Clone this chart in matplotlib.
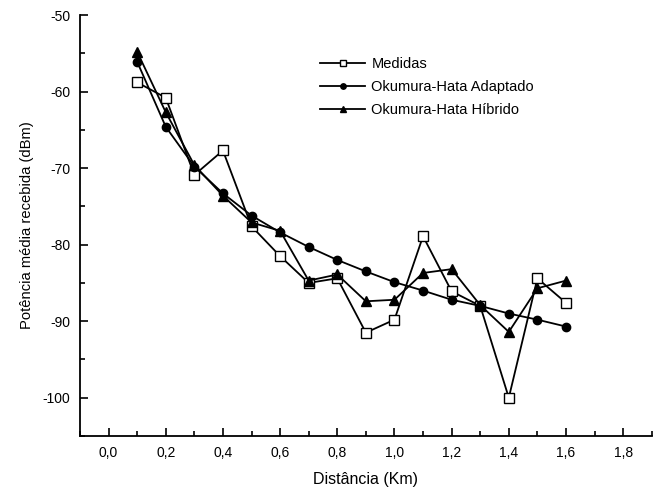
import numpy as np
import matplotlib
matplotlib.use('Agg')
import matplotlib.pyplot as plt
from matplotlib.ticker import MultipleLocator, FuncFormatter

plt.rcParams['font.family'] = ['Liberation Sans', 'DejaVu Sans']
plt.rcParams['font.size'] = 10
plt.rcParams['axes.unicode_minus'] = False

distancia = [0.1, 0.2, 0.3, 0.4, 0.5, 0.6, 0.7, 0.8, 0.9, 1.0, 1.1, 1.2, 1.3, 1.4, 1.5, 1.6]
medidas = [-58.8, -60.8, -70.9, -67.7, -77.6, -81.5, -85.0, -84.4, -91.5, -89.8,
           -78.9, -86.1, -88.0, -100.0, -84.4, -87.6]
oh_adaptado = [-56.1, -64.6, -69.8, -73.3, -76.2, -78.4, -80.3, -82.0, -83.5, -84.9,
               -86.0, -87.2, -88.0, -89.0, -89.8, -90.7]
oh_hibrido = [-54.8, -62.7, -69.6, -73.6, -77.1, -78.2, -84.7, -83.9, -87.4, -87.2,
              -83.7, -83.2, -87.9, -91.4, -85.7, -84.7]

fig = plt.figure(figsize=(6.61, 4.94), dpi=100)
ax = fig.add_axes([0.121, 0.1174, 0.865, 0.8522])

ax.plot(distancia, medidas, '-', color='black', lw=1.3, marker='s', ms=6.5,
        mfc='white', mec='black', mew=1.0, label='Medidas')
ax.plot(distancia, oh_adaptado, '-', color='black', lw=1.3, marker='o', ms=6,
        mfc='black', mec='black', label='Okumura-Hata Adaptado')
ax.plot(distancia, oh_hibrido, '-', color='black', lw=1.3, marker='^', ms=7.5,
        mfc='black', mec='black', label='Okumura-Hata Híbrido')

ax.set_xlim(-0.1, 1.9)
ax.set_ylim(-105, -50)
ax.xaxis.set_major_locator(MultipleLocator(0.2))
ax.xaxis.set_minor_locator(MultipleLocator(0.1))
ax.yaxis.set_major_locator(MultipleLocator(10))
ax.yaxis.set_minor_locator(MultipleLocator(5))
ax.xaxis.set_major_formatter(FuncFormatter(lambda v, p: f'{v:.1f}'.replace('.', ',')))
ax.yaxis.set_major_formatter(FuncFormatter(lambda v, p: f'{v:.0f}'))

for s in ['top', 'right']:
    ax.spines[s].set_visible(False)
for s in ['left', 'bottom']:
    ax.spines[s].set_linewidth(1.3)

ax.tick_params(which='major', direction='in', length=6, width=1.2, pad=7, labelsize=10)
ax.tick_params(which='minor', direction='in', length=3.5, width=1.2)

ax.set_xlabel('Distância (Km)', fontsize=11.5, labelpad=9)
ax.set_ylabel('Potência média recebida (dBm)', fontsize=10.6, labelpad=6)

ax.legend(loc='upper left', bbox_to_anchor=(0.41, 0.915), frameon=False,
          handlelength=3.1, handletextpad=0.4, labelspacing=0.62, fontsize=10.5,
          markerscale=0.65, borderaxespad=0)

fig.savefig('out.png', dpi=100)
